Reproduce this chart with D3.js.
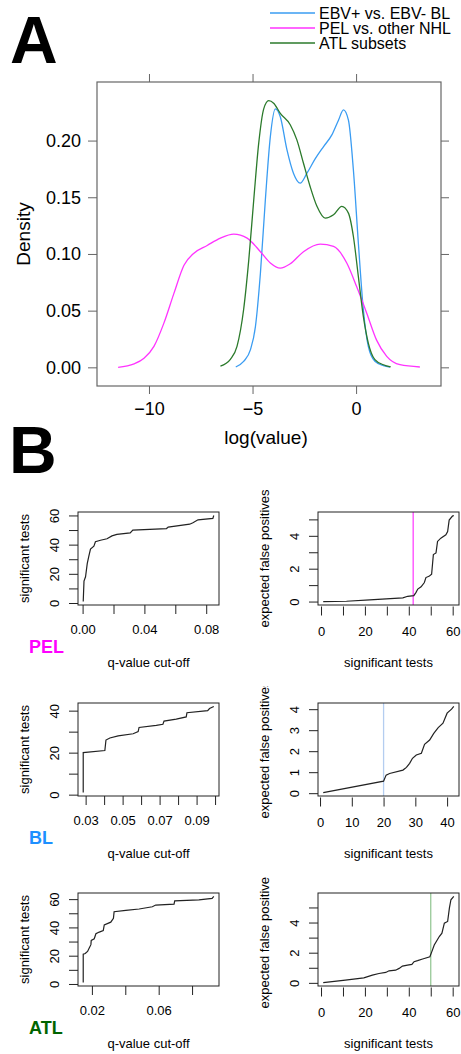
<!DOCTYPE html>
<html>
<head>
<meta charset="utf-8">
<script src="https://cdn.jsdelivr.net/npm/d3@7"></script>
<style>
  html, body { margin: 0; padding: 0; background: #fff; }
  svg { display: block; font-family: "Liberation Sans", Arial, sans-serif; }
</style>
</head>
<body>
<div id="chart"></div>
<script>
// ---- panel A: density curves of log(value)
var seriesNames = ["EBV+ vs. EBV- BL", "PEL vs. other NHL", "ATL subsets"];
var seriesColors = ["#3a9cf2", "#ff33ff", "#2b7a2b"];

var blDx = [-5.81,-5.43,-5.10,-4.86,-4.62,-4.38,-4.14,-3.90,-3.66,-3.34,-3.02,-2.70,-2.38,-1.97,-1.57,-1.17,-0.85,-0.61,-0.37,-0.13,0.11,0.35,0.59,0.91,1.32,1.64];
var blDy = [0.0003,0.0053,0.0156,0.036,0.083,0.148,0.2035,0.228,0.221,0.192,0.171,0.1624,0.171,0.184,0.1947,0.205,0.218,0.227,0.218,0.174,0.1095,0.051,0.0185,0.0053,0.0015,0.0003];

var pelDx = [-11.49,-10.72,-10.24,-9.76,-9.28,-8.80,-8.31,-7.83,-7.19,-6.55,-5.91,-5.26,-4.62,-4.14,-3.66,-3.18,-2.54,-1.73,-1.09,-0.45,0.03,0.51,0.99,1.48,2.12,3.08];
var pelDy = [0,0.003,0.008,0.0185,0.039,0.065,0.09,0.1007,0.1075,0.114,0.1175,0.114,0.102,0.092,0.0875,0.0913,0.102,0.1087,0.1066,0.092,0.071,0.048,0.024,0.0097,0.0023,0.0003];

var atlDx = [-6.55,-6.07,-5.75,-5.43,-5.18,-4.94,-4.70,-4.46,-4.22,-3.98,-3.66,-3.18,-2.86,-2.54,-2.22,-1.89,-1.49,-1.09,-0.69,-0.37,-0.13,0.11,0.35,0.59,0.91,1.32,1.67];
var atlDy = [0.001,0.007,0.0185,0.051,0.095,0.148,0.198,0.228,0.2352,0.233,0.224,0.214,0.2006,0.18,0.1595,0.142,0.1316,0.1345,0.142,0.136,0.1154,0.080,0.045,0.0214,0.0068,0.0023,0.0003];

var aXTicks = [-10, -5, 0];
var aYTicks = [0, 0.05, 0.10, 0.15, 0.20];

// ---- panel B: q-value cut-off vs significant tests, and expected false positives
var groupNames = ["PEL", "BL", "ATL"];
var groupColors = ["#ff00ff", "#1e90ff", "#006400"];
var cutColors = ["#ff44ff", "#b4cdf0", "#98c998"];

var pelQ = [0.0004,0.0009,0.0019,0.003,0.004,0.0051,0.0073,0.0083,0.0116,0.0158,0.019,0.0222,0.0308,0.0325,0.0543,0.0554,0.0693,0.0714,0.0747,0.0843,0.0849];
var pelN = [1,15,18,27,32,37,39,42,43,44,46,47,48,50,51,52,54,55,57,58,60];
var pelFpN = [1,11.6,22.2,29.7,37.3,39.5,42.3,43.3,44.1,45.6,47.1,47.8,49.4,50.4,51.2,52.4,53.1,54.6,56.9,57.7,58.4,59.9,60.5];
var pelFp = [0,0.02,0.1,0.16,0.22,0.32,0.36,0.56,0.76,0.9,1.16,1.46,1.56,1.66,2.86,2.96,3.66,3.86,4.06,4.26,4.96,5.2,5.24];

var blQ = [0.0287,0.0287,0.0404,0.041,0.0431,0.0476,0.0557,0.0584,0.0589,0.0682,0.0718,0.0724,0.079,0.0844,0.0848,0.096,0.097,0.0993];
var blN = [1,20,21,26,27,28,29,30,32,33,33.5,35,36,37,39,40,41,42];
var blFpN = [1,20,20.8,21.9,26.1,27.2,28.2,29.1,30.3,31.9,32.9,34.5,35.8,37.2,38.7,40,41.4,42.1];
var blFp = [0.03,0.57,0.86,0.94,1.1,1.23,1.42,1.66,1.82,1.9,2.33,2.53,2.85,3.12,3.33,3.81,4.0,4.13];

var atlQ = [0.0148,0.0148,0.016,0.0174,0.0184,0.0194,0.0196,0.0214,0.0224,0.0244,0.0268,0.0274,0.0313,0.0329,0.0333,0.0403,0.0483,0.0562,0.0582,0.0692,0.0696,0.0841,0.092,0.093];
var atlN = [1,21,21.5,23,25.4,27.8,30.8,32,35.5,36.7,37.8,41.8,43.7,46.5,51.1,52.1,53,54.6,55.8,56.5,58.8,59.5,60.5,61.9];
var atlFpN = [1,11.1,19.5,23.4,26.4,29.5,31,34,35.6,37.1,39.4,41.4,42.4,44,46.3,49.6,50.5,51.6,53.9,55.1,56.2,57.7,58.5,59.2,60.5];
var atlFp = [0.02,0.18,0.33,0.51,0.62,0.69,0.8,0.84,0.96,1.11,1.18,1.22,1.4,1.47,1.58,1.73,2.07,2.51,3.07,3.29,3.96,4.07,4.96,5.51,5.73];

var cutOffs = [42, 20, 50];

var qTicks = [[0,0.02,0.04,0.06,0.08], [0.03,0.04,0.05,0.06,0.07,0.08,0.09,0.10], [0.02,0.04,0.06,0.08]];
var qLabels = [[0,0.04,0.08], [0.03,0.05,0.07,0.09], [0.02,0.06]];
var nTicks = [[0,10,20,30,40,50,60], [0,10,20,30,40], [0,10,20,30,40,50,60]];
var nLabels = [[0,20,40,60], [0,20,40], [0,20,40,60]];
var fpXTicks = [[0,10,20,30,40,50,60], [0,10,20,30,40], [0,10,20,30,40,50,60]];
var fpXLabels = [[0,20,40,60], [0,10,20,30,40], [0,20,40,60]];
var fpYTicks = [[0,1,2,3,4,5], [0,1,2,3,4], [0,1,2,3,4,5]];
var fpYLabels = [[0,2,4], [0,1,2,3,4], [0,2,4]];

var W = 461, H = 1054;

var svg = d3.select("#chart").append("svg")
	.attr("width", W)
	.attr("height", H);

// R style range extension
function padded(vals, f) {
	var e = d3.extent(vals), r = e[1] - e[0];
	return [e[0] - f * r, e[1] + f * r];
}

function styleAxis(g, color, size) {
	g.attr("font-family", null).attr("font-size", size || null);
	g.select(".domain").remove();
	g.selectAll("line").attr("stroke", color);
	g.selectAll("text").attr("fill", "#000");
}

// ================= panel A =================
var A = { x0: 97, x1: 441, y0: 82, y1: 386 };

svg.append("text")
	.attr("x", 10).attr("y", 63)
	.attr("font-size", 66).attr("font-weight", "bold")
	.text("A");

var ax = d3.scaleLinear()
	.domain(padded(pelDx.concat(blDx, atlDx), 0.07))
	.range([A.x0, A.x1]);
var ay = d3.scaleLinear()
	.domain(padded(pelDy.concat(blDy, atlDy), 0.07))
	.range([A.y1, A.y0]);

var aAxisColor = "#666";

svg.append("g")
	.attr("transform", "translate(" + A.x0 + ",0)")
	.call(d3.axisLeft(ay).tickValues(aYTicks).tickSize(9).tickPadding(7).tickFormat(d3.format(".2f")))
	.call(styleAxis, aAxisColor, 18);

svg.append("g")
	.attr("transform", "translate(0," + A.y1 + ")")
	.call(d3.axisBottom(ax).tickValues(aXTicks).tickSize(8).tickPadding(8).tickFormat(d3.format("d")))
	.call(styleAxis, aAxisColor, 18);

svg.append("g")
	.attr("transform", "translate(0," + A.y0 + ")")
	.call(d3.axisTop(ax).tickValues(aXTicks).tickSize(8).tickFormat(""))
	.call(styleAxis, aAxisColor);

svg.append("g")
	.attr("transform", "translate(" + A.x1 + ",0)")
	.call(d3.axisRight(ay).tickValues(aYTicks).tickSize(8).tickFormat(""))
	.call(styleAxis, aAxisColor);

svg.append("rect")
	.attr("x", A.x0).attr("y", A.y0)
	.attr("width", A.x1 - A.x0).attr("height", A.y1 - A.y0)
	.attr("fill", "none").attr("stroke", aAxisColor).attr("stroke-width", 1.2);

var densLine = d3.line()
	.x(function(d){ return ax(d[0]); })
	.y(function(d){ return ay(d[1]); })
	.curve(d3.curveMonotoneX);

var densities = [
	d3.zip(blDx, blDy),
	d3.zip(pelDx, pelDy),
	d3.zip(atlDx, atlDy)
];

densities.forEach(function(pts, i){
	svg.append("path")
		.attr("d", densLine(pts))
		.attr("fill", "none")
		.attr("stroke", seriesColors[i])
		.attr("stroke-width", 1.3);
});

svg.append("text")
	.attr("x", (A.x0 + A.x1) / 2 - 3).attr("y", 437)
	.attr("text-anchor", "middle").attr("dominant-baseline", "central")
	.attr("font-size", 19)
	.text("log(value)");

svg.append("text")
	.attr("transform", "translate(23," + (A.y0 + A.y1) / 2 + ") rotate(-90)")
	.attr("text-anchor", "middle").attr("dominant-baseline", "central")
	.attr("font-size", 19)
	.text("Density");

// legend
var legend = svg.append("g");
seriesNames.forEach(function(name, i){
	var y = 13 + i * 15;
	legend.append("line")
		.attr("x1", 270).attr("x2", 315)
		.attr("y1", y).attr("y2", y)
		.attr("stroke", seriesColors[i]).attr("stroke-width", 1.3);
	legend.append("text")
		.attr("x", 319).attr("y", y)
		.attr("dominant-baseline", "central")
		.attr("font-size", 16)
		.text(name);
});

// ================= panel B =================
svg.append("text")
	.attr("x", 9).attr("y", 473)
	.attr("font-size", 66).attr("font-weight", "bold")
	.text("B");

var leftData = [[pelQ, pelN], [blQ, blN], [atlQ, atlN]];
var rightData = [[pelFpN, pelFp], [blFpN, blFp], [atlFpN, atlFp]];
var rowTops = [512, 703, 893];
var boxH = 93;
var leftBox = [78, 219], rightBox = [318, 459];
var clipTops = [470, 686, 877];
var bAxisColor = "#222";

function qFmt(labels) {
	return function(d){
		var hit = labels.some(function(l){ return Math.abs(l - d) < 1e-9; });
		return hit ? d.toFixed(2) : "";
	};
}
function intFmt(labels) {
	return function(d){
		return labels.indexOf(d) >= 0 ? String(d) : "";
	};
}

function drawCell(r, side) {
	var bx = side === 0 ? leftBox : rightBox;
	var top = rowTops[r], bot = top + boxH;
	var data = side === 0 ? leftData[r] : rightData[r];

	var sx = d3.scaleLinear().domain(padded(data[0], 0.04)).range(bx);
	var sy = d3.scaleLinear().domain(padded(data[1], 0.04)).range([bot, top]);

	var cell = svg.append("g");

	var xTickVals = side === 0 ? qTicks[r] : fpXTicks[r];
	var xFmt = side === 0 ? qFmt(qLabels[r]) : intFmt(fpXLabels[r]);
	var yTickVals = side === 0 ? nTicks[r] : fpYTicks[r];
	var yFmt = side === 0 ? intFmt(nLabels[r]) : intFmt(fpYLabels[r]);

	cell.append("g")
		.attr("transform", "translate(0," + (bot + (side === 1 ? 1.5 : 0)) + ")")
		.call(d3.axisBottom(sx).tickValues(xTickVals).tickSize(9).tickPadding(11).tickFormat(xFmt))
		.call(styleAxis, bAxisColor, 13);

	var yg = cell.append("g")
		.attr("transform", "translate(" + bx[0] + ",0)")
		.call(d3.axisLeft(sy).tickValues(yTickVals).tickSize(9).tickFormat(yFmt))
		.call(styleAxis, bAxisColor, 13);
	yg.selectAll("text")
		.attr("x", null).attr("dy", null)
		.attr("transform", "translate(-24,0) rotate(-90)")
		.attr("text-anchor", "middle")
		.attr("dominant-baseline", "central");

	if (side === 1) {
		var cx = sx(cutOffs[r]);
		cell.append("line")
			.attr("x1", cx).attr("x2", cx)
			.attr("y1", top).attr("y2", bot)
			.attr("stroke", cutColors[r]).attr("stroke-width", 1.3);
	}

	var line = d3.line()
		.x(function(d){ return sx(d[0]); })
		.y(function(d){ return sy(d[1]); });

	cell.append("path")
		.attr("d", line(d3.zip(data[0], data[1])))
		.attr("fill", "none")
		.attr("stroke", "#222")
		.attr("stroke-width", 1.2);

	cell.append("rect")
		.attr("x", bx[0]).attr("y", top)
		.attr("width", bx[1] - bx[0]).attr("height", boxH)
		.attr("fill", "none").attr("stroke", bAxisColor).attr("stroke-width", 1);

	// axis titles
	cell.append("text")
		.attr("x", (bx[0] + bx[1]) / 2).attr("y", bot + 57)
		.attr("text-anchor", "middle").attr("dominant-baseline", "central")
		.attr("font-size", 13)
		.text(side === 0 ? "q-value cut-off" : "significant tests");

	var clipId = "clip" + r + "_" + side;
	svg.append("clipPath").attr("id", clipId)
		.append("rect")
		.attr("x", bx[0] - 78).attr("y", clipTops[r])
		.attr("width", 78).attr("height", bot + 60 - clipTops[r]);

	cell.append("g")
		.attr("clip-path", "url(#" + clipId + ")")
		.append("text")
		.attr("transform", "translate(" + (bx[0] - 54) + "," + (top + bot) / 2 + ") rotate(-90)")
		.attr("text-anchor", "middle").attr("dominant-baseline", "central")
		.attr("font-size", 13)
		.text(side === 0 ? "significant tests" : "expected false positives");
}

for (var r = 0; r < 3; r++) {
	drawCell(r, 0);
	drawCell(r, 1);
	svg.append("text")
		.attr("x", 29).attr("y", rowTops[r] + boxH + 42)
		.attr("dominant-baseline", "central")
		.attr("font-size", 18).attr("font-weight", "bold")
		.attr("fill", groupColors[r])
		.text(groupNames[r]);
}
</script>
</body>
</html>
